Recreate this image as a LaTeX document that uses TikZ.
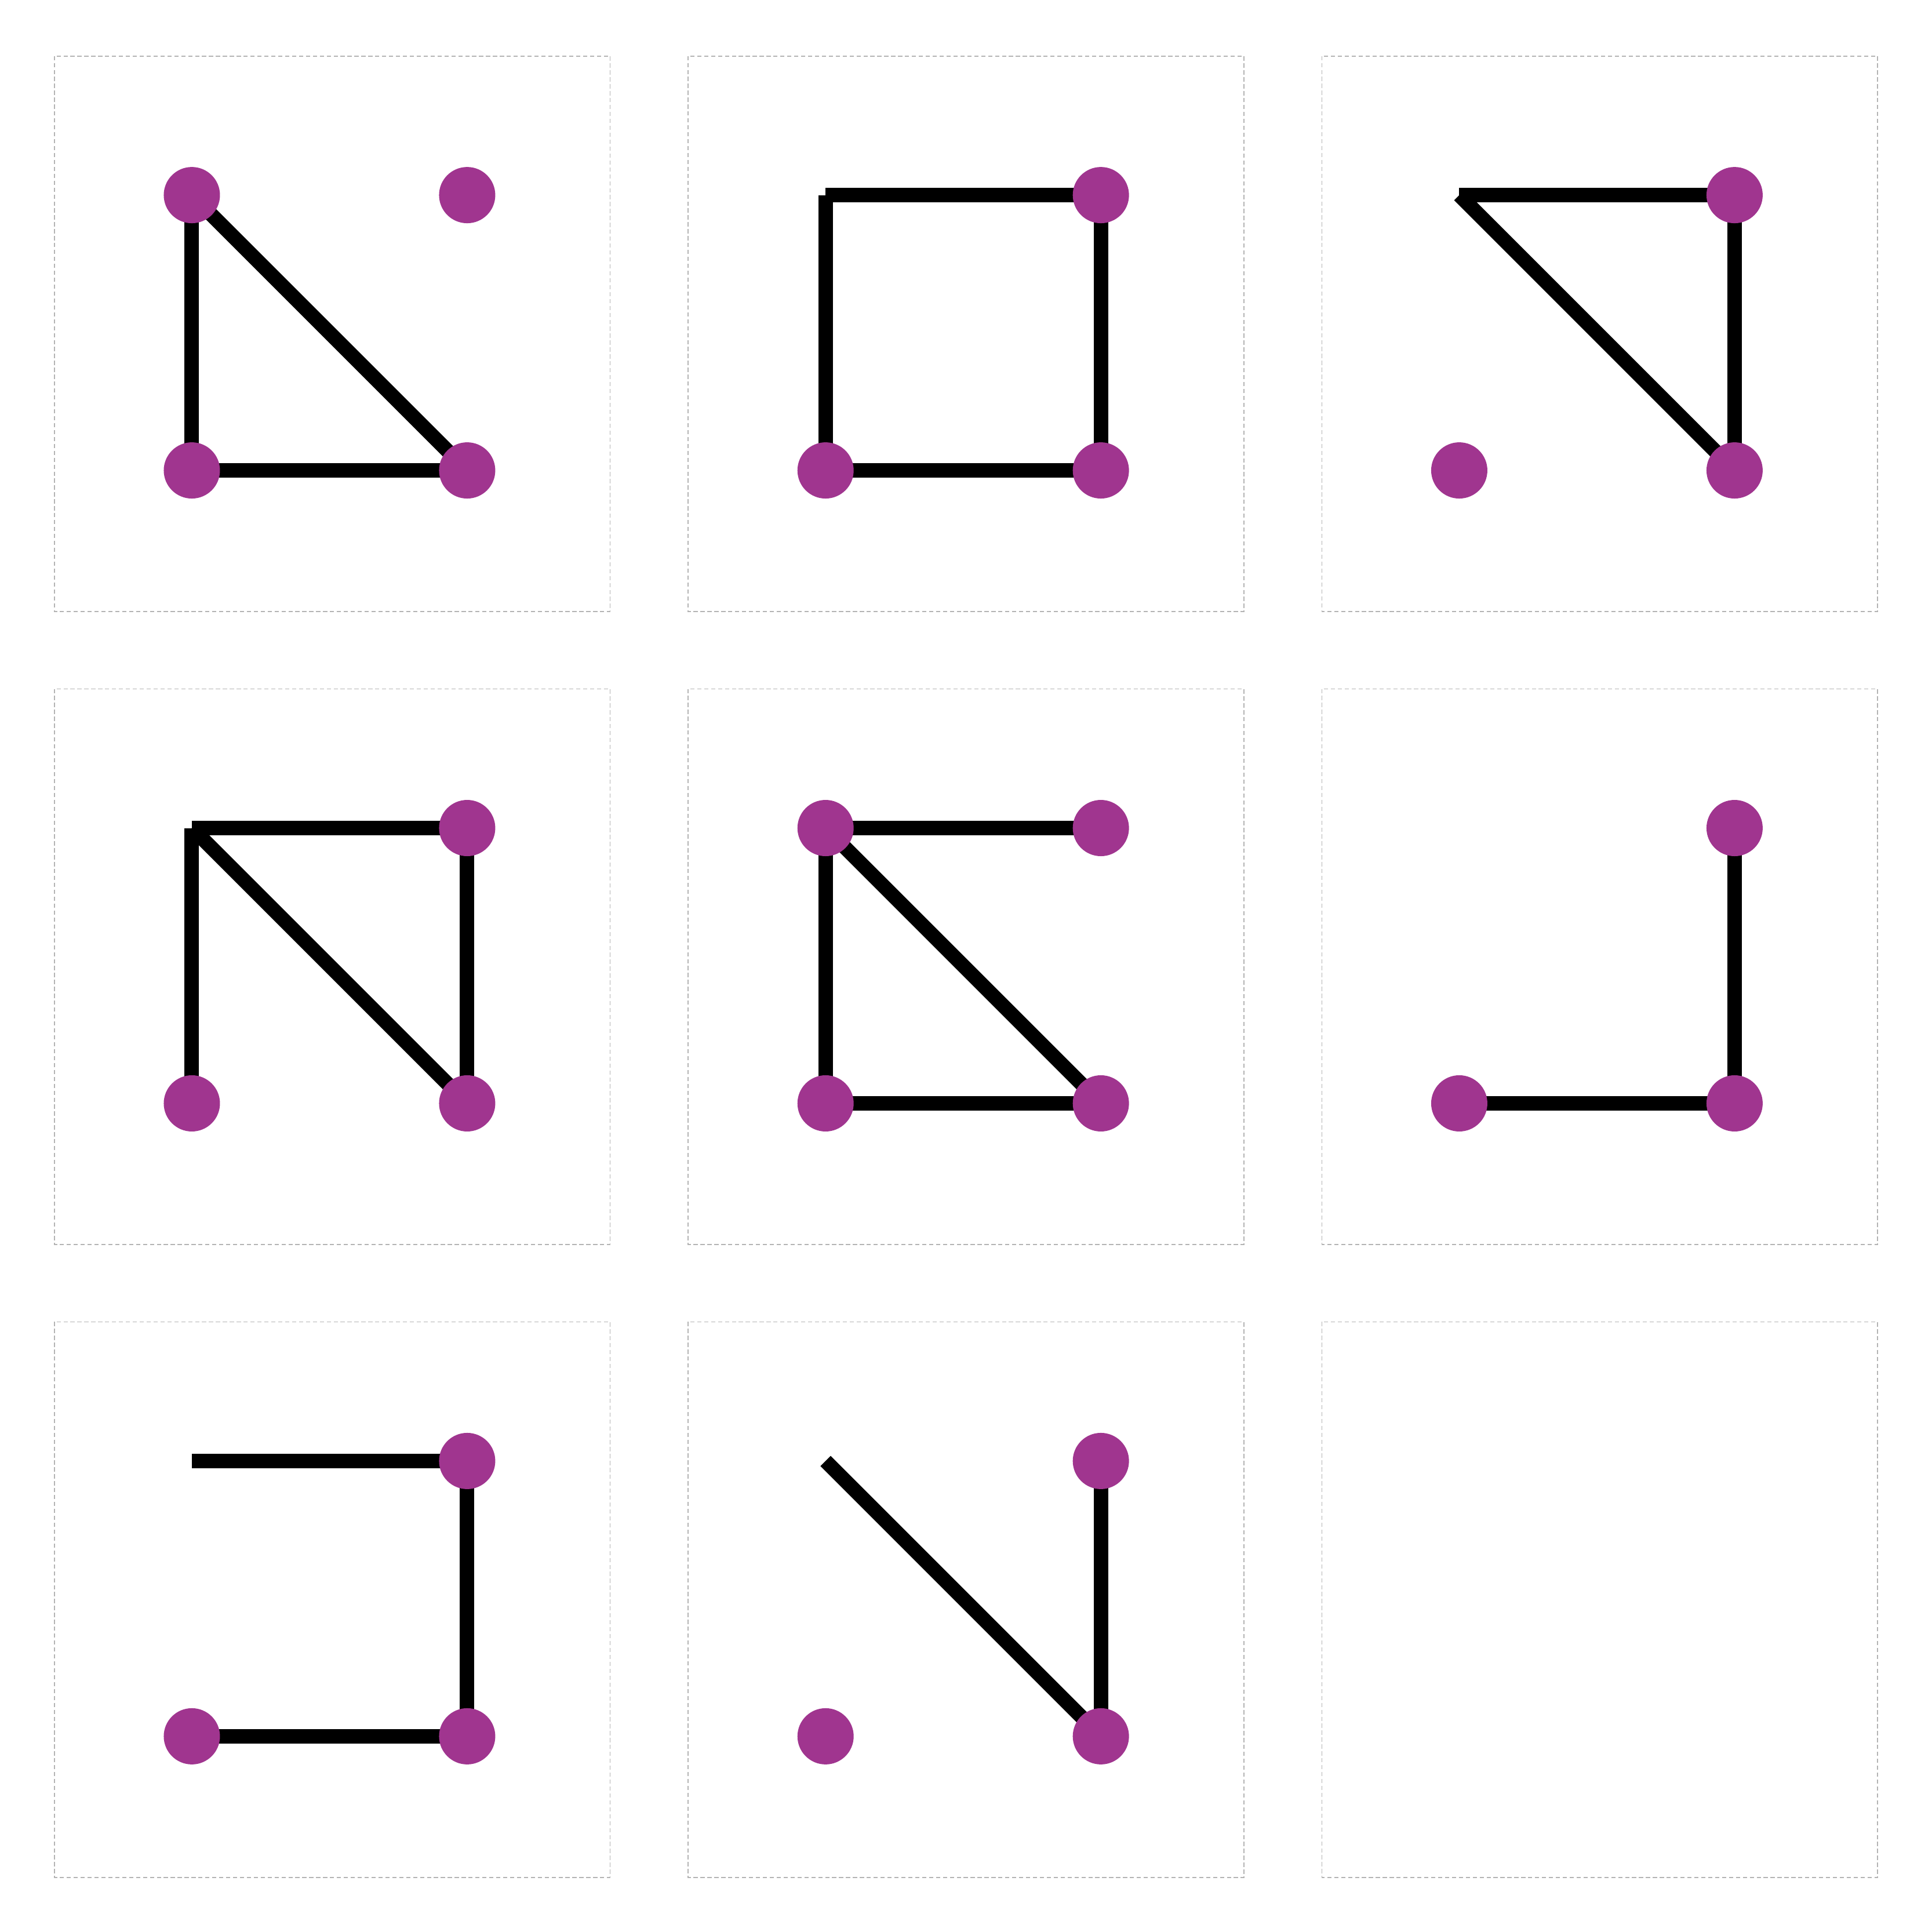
\documentclass[tikz,border=0pt]{standalone}
\usepackage{tikz}
\usetikzlibrary{backgrounds}
\definecolor{dotpurple}{HTML}{A0358F}
\definecolor{panelgray}{HTML}{B3B3B3}

\begin{document}
\begin{tikzpicture}[x=1mm, y=-1mm,
    dot/.style={circle, fill=dotpurple, inner sep=0pt, minimum size=2.91mm},
    lnk/.style={line width=0.75mm, line cap=butt},
    pnl/.style={panelgray, line width=0.15pt, dash pattern=on 0.62pt off 0.4pt}]
  \useasboundingbox (0,0) rectangle (100,100);
  % row 1
  \begin{scope}[shift={(2.82,2.9)}]
    \draw[pnl] (0,0) rectangle (28.76,28.76);
    \node[dot] (p1a) at (7.11,7.2)   {};
    \node[dot] (p1b) at (21.36,7.2)  {};
    \node[dot] (p1c) at (7.11,21.45) {};
    \node[dot] (p1d) at (21.36,21.45) {};
    \begin{scope}[on background layer]
      \draw[lnk] (p1a.center) -- (p1c.center);
      \draw[lnk] (p1a.center) -- (p1d.center);
      \draw[lnk] (p1c.center) -- (p1d.center);
    \end{scope}
  \end{scope}
  \begin{scope}[shift={(35.62,2.9)}]
    \draw[pnl] (0,0) rectangle (28.76,28.76);
    \coordinate (p2a) at (7.11,7.2);
    \node[dot] (p2b) at (21.36,7.2)  {};
    \node[dot] (p2c) at (7.11,21.45) {};
    \node[dot] (p2d) at (21.36,21.45) {};
    \begin{scope}[on background layer]
      \draw[lnk] (p2a) -- (p2b.center);
      \draw[lnk] (p2a) -- (p2c.center);
      \draw[lnk] (p2b.center) -- (p2d.center);
      \draw[lnk] (p2c.center) -- (p2d.center);
    \end{scope}
  \end{scope}
  \begin{scope}[shift={(68.42,2.9)}]
    \draw[pnl] (0,0) rectangle (28.76,28.76);
    \coordinate (p3a) at (7.11,7.2);
    \node[dot] (p3b) at (21.36,7.2)  {};
    \node[dot] (p3c) at (7.11,21.45) {};
    \node[dot] (p3d) at (21.36,21.45) {};
    \begin{scope}[on background layer]
      \draw[lnk] (p3a) -- (p3b.center);
      \draw[lnk] (p3a) -- (p3d.center);
      \draw[lnk] (p3b.center) -- (p3d.center);
    \end{scope}
  \end{scope}
  % row 2
  \begin{scope}[shift={(2.82,35.66)}]
    \draw[pnl] (0,0) rectangle (28.76,28.76);
    \coordinate (p4a) at (7.11,7.2);
    \node[dot] (p4b) at (21.36,7.2)  {};
    \node[dot] (p4c) at (7.11,21.45) {};
    \node[dot] (p4d) at (21.36,21.45) {};
    \begin{scope}[on background layer]
      \draw[lnk] (p4a) -- (p4b.center);
      \draw[lnk] (p4a) -- (p4c.center);
      \draw[lnk] (p4a) -- (p4d.center);
      \draw[lnk] (p4b.center) -- (p4d.center);
    \end{scope}
  \end{scope}
  \begin{scope}[shift={(35.62,35.66)}]
    \draw[pnl] (0,0) rectangle (28.76,28.76);
    \node[dot] (p5a) at (7.11,7.2)   {};
    \node[dot] (p5b) at (21.36,7.2)  {};
    \node[dot] (p5c) at (7.11,21.45) {};
    \node[dot] (p5d) at (21.36,21.45) {};
    \begin{scope}[on background layer]
      \draw[lnk] (p5a.center) -- (p5b.center);
      \draw[lnk] (p5a.center) -- (p5c.center);
      \draw[lnk] (p5a.center) -- (p5d.center);
      \draw[lnk] (p5c.center) -- (p5d.center);
    \end{scope}
  \end{scope}
  \begin{scope}[shift={(68.42,35.66)}]
    \draw[pnl] (0,0) rectangle (28.76,28.76);
    \node[dot] (p6b) at (21.36,7.2)  {};
    \node[dot] (p6c) at (7.11,21.45) {};
    \node[dot] (p6d) at (21.36,21.45) {};
    \begin{scope}[on background layer]
      \draw[lnk] (p6b.center) -- (p6d.center);
      \draw[lnk] (p6c.center) -- (p6d.center);
    \end{scope}
  \end{scope}
  % row 3
  \begin{scope}[shift={(2.82,68.42)}]
    \draw[pnl] (0,0) rectangle (28.76,28.76);
    \coordinate (p7a) at (7.11,7.2);
    \node[dot] (p7b) at (21.36,7.2)  {};
    \node[dot] (p7c) at (7.11,21.45) {};
    \node[dot] (p7d) at (21.36,21.45) {};
    \begin{scope}[on background layer]
      \draw[lnk] (p7a) -- (p7b.center);
      \draw[lnk] (p7b.center) -- (p7d.center);
      \draw[lnk] (p7c.center) -- (p7d.center);
    \end{scope}
  \end{scope}
  \begin{scope}[shift={(35.62,68.42)}]
    \draw[pnl] (0,0) rectangle (28.76,28.76);
    \coordinate (p8a) at (7.11,7.2);
    \node[dot] (p8b) at (21.36,7.2)  {};
    \node[dot] (p8c) at (7.11,21.45) {};
    \node[dot] (p8d) at (21.36,21.45) {};
    \begin{scope}[on background layer]
      \draw[lnk] (p8a) -- (p8d.center);
      \draw[lnk] (p8b.center) -- (p8d.center);
    \end{scope}
  \end{scope}
  \begin{scope}[shift={(68.42,68.42)}]
    \draw[pnl] (0,0) rectangle (28.76,28.76);
  \end{scope}
\end{tikzpicture}
\end{document}
